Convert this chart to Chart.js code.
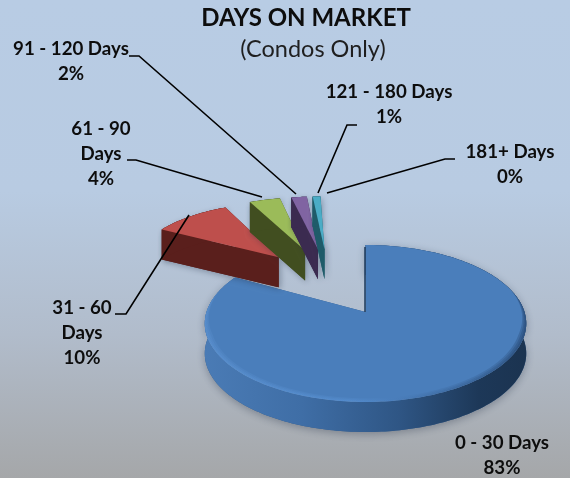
<!DOCTYPE html>
<html>
<head>
<meta charset="utf-8">
<title>Days on Market</title>
<script src="https://cdn.jsdelivr.net/npm/chart.js@4/dist/chart.umd.js"></script>
<style>
  html, body { margin: 0; padding: 0; background: #b8cce4; }
  canvas { display: block; }
</style>
</head>
<body>
<canvas id="chart" width="570" height="478"></canvas>
<script>
const categories = ["0 - 30 Days", "31 - 60 Days", "61 - 90 Days", "91 - 120 Days", "121 - 180 Days", "181+ Days"];
const shares = [83, 10, 4, 2, 1, 0];

const topColors = ["#4a7ebb", "#be4f4c", "#9bbb59", "#8064a2", "#4bacc6", "#f79646"];
const wallColors = ["#2f5a8c", "#5a1f1c", "#414e20", "#3b2b50", "#1f5b69", "#7a4a20"];

// callout text, line by line, and where it sits
const labelLines = [["0 - 30 Days"], ["31 - 60", "Days"], ["61 - 90", "Days"], ["91 - 120 Days"], ["121 - 180 Days"], ["181+ Days"]];
const labelCenters = [[502, 443], [82, 308], [101, 129], [71, 49], [389, 92], [510, 152]];
const LINE_H = 25;

const SUBTITLE = "(Condos Only)";
const SUBTITLE_AT = [313, 49];

// leader lines, label side first
const leaders = [
  null,
  [[115, 314], [126, 314], [189, 215]],
  [[127, 160], [136, 160], [262, 197]],
  [[129, 56], [139, 56], [296, 194]],
  [[357, 125], [347, 125], [318, 193]],
  [[455, 159], [445, 159], [327, 193]],
];

// tilted pie: plane coords in radii, z is depth below the top face
const VIEW = { cx: 365.5, cy: 312, rx: 159, ry: 76.8, persp: 0.1465, depth: 30 };
const EXPLODE = 0.5;
const FAR_SKEW = 0.07; // detached slices lean left as they recede

function project(u, v, z = 0) {
  const w = 1 - VIEW.persp * v;
  return [VIEW.cx + VIEW.rx * u / w, VIEW.cy + VIEW.ry * v / w + VIEW.depth * z];
}

function fillPoly(ctx, pts, fill) {
  ctx.beginPath();
  pts.forEach((p, i) => (i ? ctx.lineTo(p[0], p[1]) : ctx.moveTo(p[0], p[1])));
  ctx.closePath();
  ctx.fillStyle = fill;
  ctx.fill();
}

function arcSamples(a0, a1) {
  const n = Math.max(2, Math.ceil(Math.abs(a1 - a0) / 0.02));
  const out = [];
  for (let i = 0; i <= n; i++) out.push(a0 + (a1 - a0) * i / n);
  return out;
}

const pie3d = {
  id: "pie3d",
  beforeDraw(chart) {
    const { ctx, width, height } = chart;
    const g = ctx.createLinearGradient(0, 0, 0, height);
    g.addColorStop(0, "#b8cce4");
    g.addColorStop(0.4, "#b8cbe2");
    g.addColorStop(0.7, "#b1bccb");
    g.addColorStop(1, "#a5a7a9");
    ctx.fillStyle = g;
    ctx.fillRect(0, 0, width, height);
  },
  // the library's arcs are replaced by extruded ones built from the same angles
  beforeDatasetsDraw(chart) {
    const { ctx } = chart;
    const arcs = chart.getDatasetMeta(0).data;
    const mid0 = (arcs[0].startAngle + arcs[0].endAngle) / 2;
    const ox = -EXPLODE * Math.cos(mid0);
    const oy = -EXPLODE * Math.sin(mid0);

    arcs.forEach((el, i) => {
      if (el.endAngle - el.startAngle <= 0) return;
      const mid = (el.startAngle + el.endAngle) / 2;
      const ax = ox + EXPLODE * Math.cos(mid);
      const ay = oy + EXPLODE * Math.sin(mid);
      const lean = (u, v) => (i === 0 ? u : u + FAR_SKEW * (v + 0.6));
      const toPlane = (t, r = 1) => {
        const v = ay + r * Math.sin(t);
        return [lean(ax + r * Math.cos(t), v), v];
      };
      const angles = arcSamples(el.startAngle, el.endAngle);
      const plane = angles.map(t => toPlane(t));
      const rim = plane.map(p => project(p[0], p[1]));
      const rimLow = plane.map(p => project(p[0], p[1], 1));
      const apex = project(lean(ax, ay), ay);
      const apexLow = project(lean(ax, ay), ay, 1);

      const top = [apex, ...rim];
      const outerWall = [...rim, ...rimLow.slice().reverse()];
      const startWall = [apex, rim[0], rimLow[0], apexLow];
      const endWall = [apex, rim[rim.length - 1], rimLow[rimLow.length - 1], apexLow];

      // soft shadow under the whole solid
      ctx.save();
      ctx.shadowColor = "rgba(30,40,60,0.35)";
      ctx.shadowBlur = i === 0 ? 9 : 6;
      ctx.shadowOffsetX = i === 0 ? 0 : 2;
      ctx.shadowOffsetY = 2;
      fillPoly(ctx, outerWall, wallColors[i]);
      fillPoly(ctx, startWall, wallColors[i]);
      ctx.restore();

      let wallFill = wallColors[i];
      if (i === 0) {
        wallFill = ctx.createLinearGradient(205, 0, 527, 0);
        wallFill.addColorStop(0, "#4a7bb5");
        wallFill.addColorStop(0.3, "#3f6ea6");
        wallFill.addColorStop(0.6, "#2f5685");
        wallFill.addColorStop(0.85, "#1d3858");
        wallFill.addColorStop(1, "#1b3350");
      }
      fillPoly(ctx, endWall, wallColors[i]);
      fillPoly(ctx, startWall, wallColors[i]);
      fillPoly(ctx, outerWall, wallFill);
      fillPoly(ctx, top, topColors[i]);

      if (i === 0) {
        // soft bevel along the front of the big slice, outer band first
        [0.012, 0.024, 0.036].forEach(band => {
          const inner = angles.map(t => {
            const k = Math.min(1, Math.max(0, (Math.sin(t) + 0.3) / 0.6));
            const p = toPlane(t, 1 - band * k);
            return project(p[0], p[1]);
          });
          const glow = ctx.createLinearGradient(205, 0, 527, 0);
          glow.addColorStop(0, "rgba(105,160,225,0.16)");
          glow.addColorStop(0.45, "rgba(95,155,225,0.16)");
          glow.addColorStop(0.75, "rgba(50,90,140,0.18)");
          glow.addColorStop(1, "rgba(30,60,100,0.3)");
          fillPoly(ctx, [...rim, ...inner.slice().reverse()], glow);
        });

        // sliver of the inner wall on the cut edge
        ctx.strokeStyle = "#1d3858";
        ctx.lineWidth = 1.5;
        ctx.beginPath();
        ctx.moveTo(apex[0] - 0.5, apex[1]);
        ctx.lineTo(rim[0][0] - 0.5, rim[0][1] + 2);
        ctx.stroke();
      }
    });
    return false;
  },
  // callouts go on last, the leaders run over the slices
  afterDraw(chart) {
    const { ctx } = chart;
    ctx.save();

    ctx.strokeStyle = "#000000";
    ctx.lineWidth = 1.6;
    leaders.forEach(pts => {
      if (!pts) return;
      ctx.beginPath();
      pts.forEach((p, i) => (i ? ctx.lineTo(p[0], p[1]) : ctx.moveTo(p[0], p[1])));
      ctx.stroke();
    });

    ctx.textAlign = "center";
    ctx.textBaseline = "middle";

    ctx.fillStyle = "#1f1f1f";
    ctx.font = "23.5px Lato";
    ctx.fillText(SUBTITLE, SUBTITLE_AT[0], SUBTITLE_AT[1]);

    ctx.fillStyle = "#0d0d0d";
    ctx.font = "bold 18.7px Lato";
    categories.forEach((_, i) => {
      const [x, y] = labelCenters[i];
      const lines = [...labelLines[i], shares[i] + "%"];
      lines.forEach((line, n) => ctx.fillText(line, x, y + n * LINE_H));
    });
    ctx.restore();
  },
};

new Chart(document.getElementById("chart"), {
  type: "pie",
  data: {
    labels: categories,
    datasets: [{ data: shares, backgroundColor: topColors, borderWidth: 0 }],
  },
  plugins: [pie3d],
  options: {
    responsive: false,
    animation: false,
    events: [],
    layout: { padding: { left: 42 } },
    plugins: {
      legend: { display: false },
      tooltip: { enabled: false },
      title: {
        display: true,
        text: "DAYS ON MARKET",
        color: "#0d0d0d",
        font: { family: "Lato", size: 24, weight: "bold" },
        padding: { top: 4, bottom: 3 },
      },
    },
  },
});
</script>
</body>
</html>
